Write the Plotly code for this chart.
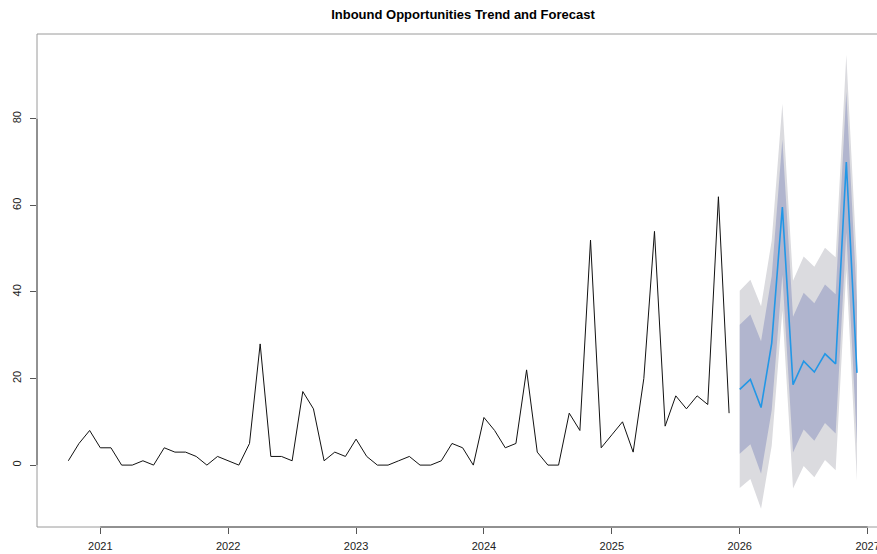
import pandas as pd
import plotly.graph_objects as go

# Monthly inbound opportunities, Oct 2020 - Dec 2025
obs_start = "2020-10"
observed = [1, 5, 8, 4, 4, 0, 0, 1, 0, 4, 3, 3, 2, 0, 2,
            1, 0, 5, 28, 2, 2, 1, 17, 13, 1, 3, 2,
            6, 2, 0, 0, 1, 2, 0, 0, 1, 5, 4, 0,
            11, 8, 4, 5, 22, 3, 0, 0, 12, 8, 52, 4,
            7, 10, 3, 20, 54, 9, 16, 13, 16, 14, 62, 12]

# Twelve-month forecast, Jan 2026 - Dec 2026
fc_start = "2026-01"
fc_mean = [17.5, 19.8, 13.3, 28.2, 59.6, 18.6, 24.0, 21.5, 25.7, 23.4, 70.0, 21.3]
fc_lo80 = [2.6, 4.8, -2.0, 12.7, 44.0, 2.9, 8.2, 5.6, 9.7, 7.3, 53.8, 5.0]
fc_hi80 = [32.4, 34.8, 28.6, 43.7, 75.2, 34.3, 39.8, 37.4, 41.7, 39.5, 86.2, 37.6]
fc_lo95 = [-5.3, -3.2, -10.1, 4.5, 35.7, -5.4, -0.2, -2.8, 1.2, -1.2, 45.2, -3.6]
fc_hi95 = [40.3, 42.8, 36.7, 51.9, 83.5, 42.6, 48.2, 45.8, 50.2, 48.0, 94.8, 46.2]

x_ticks = [2021, 2022, 2023, 2024, 2025, 2026, 2027]
y_ticks = [0, 20, 40, 60, 80]
title = "Inbound Opportunities Trend and Forecast"


def decimal_time(start, n):
    p = pd.period_range(start=start, periods=n, freq="M")
    return [per.year + (per.month - 1) / 12 for per in p]


t_obs = decimal_time(obs_start, len(observed))
t_fc = decimal_time(fc_start, len(fc_mean))

FONT = "Liberation Sans, Arial, sans-serif"
AXIS_COL = "#555555"

# The canvas is wider than the viewport; the frame's right side runs off-screen.
FIG_W, FIG_H = 900, 554
X_RANGE = [2020.505, 2027.175]

fig = go.Figure()

# 95% interval
fig.add_trace(go.Scatter(x=t_fc, y=fc_lo95, mode="lines", line=dict(width=0),
                         hoverinfo="skip", showlegend=False))
fig.add_trace(go.Scatter(x=t_fc, y=fc_hi95, mode="lines", line=dict(width=0),
                         fill="tonexty", fillcolor="#DBDBDF",
                         hoverinfo="skip", showlegend=False))
# 80% interval
fig.add_trace(go.Scatter(x=t_fc, y=fc_lo80, mode="lines", line=dict(width=0),
                         hoverinfo="skip", showlegend=False))
fig.add_trace(go.Scatter(x=t_fc, y=fc_hi80, mode="lines", line=dict(width=0),
                         fill="tonexty", fillcolor="#B1B5CE",
                         hoverinfo="skip", showlegend=False))
# point forecast
fig.add_trace(go.Scatter(x=t_fc, y=fc_mean, mode="lines",
                         line=dict(color="#2297E6", width=1.6), showlegend=False))
# history
fig.add_trace(go.Scatter(x=t_obs, y=observed, mode="lines",
                         line=dict(color="#111111", width=1), showlegend=False))

# plot frame
fig.add_shape(type="rect", xref="paper", yref="paper", x0=0, x1=1, y0=0, y1=1,
              line=dict(color="#9a9a9a", width=1), layer="above")
# axis segments spanning the first to last tick
fig.add_shape(type="line", xref="paper", yref="y", x0=0, x1=0,
              y0=min(y_ticks), y1=max(y_ticks),
              line=dict(color=AXIS_COL, width=1), layer="above")
fig.add_shape(type="line", xref="x", yref="paper", x0=min(x_ticks), x1=max(x_ticks),
              y0=0, y1=0, line=dict(color=AXIS_COL, width=1), layer="above")

fig.update_xaxes(range=X_RANGE, tickvals=x_ticks,
                 ticktext=[str(v) for v in x_ticks],
                 ticks="outside", ticklen=6, tickcolor=AXIS_COL, tickwidth=1,
                 ticklabelstandoff=3,
                 showgrid=False, zeroline=False, showline=False,
                 tickfont=dict(family=FONT, size=11, color="#222222"),
                 automargin=False)
fig.update_yaxes(range=[-14.3, 99.6], tickvals=y_ticks,
                 ticktext=[str(v) for v in y_ticks], tickangle=-90,
                 ticks="outside", ticklen=6, tickcolor=AXIS_COL, tickwidth=1,
                 ticklabelstandoff=5,
                 showgrid=False, zeroline=False, showline=False,
                 tickfont=dict(family=FONT, size=11, color="#222222"),
                 automargin=False)

fig.update_layout(
    width=FIG_W, height=FIG_H,
    margin=dict(l=37, r=FIG_W - 890, t=34, b=27),
    paper_bgcolor="white", plot_bgcolor="white",
    title=dict(text="<b>" + title + "</b>", x=463 / FIG_W, xanchor="center",
               y=1 - 14 / FIG_H, yanchor="middle",
               font=dict(family=FONT, size=13, color="#000000")),
)

fig.write_html(
    "out.html",
    post_script="document.documentElement.style.overflow='hidden';"
                "document.body.style.overflow='hidden';",
)
